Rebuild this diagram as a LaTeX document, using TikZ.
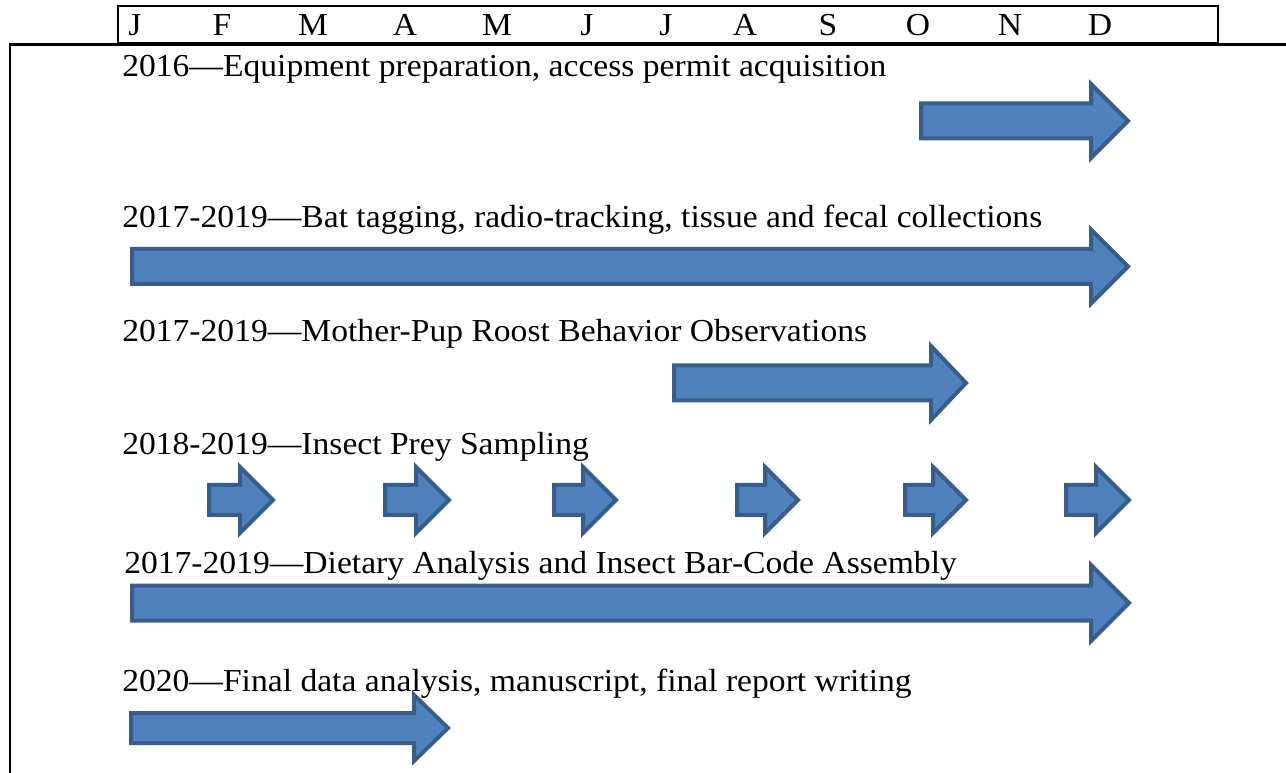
\documentclass[tikz,border=0pt]{standalone}
\usepackage{fontspec}
\setmainfont[FakeStretch=1.05]{Liberation Serif}
\usepackage{xcolor}
\definecolor{barfill}{HTML}{4F81BD}
\definecolor{barline}{HTML}{385D8A}
\usetikzlibrary{positioning}

% block arrow: start x, tip x, centre y, shaft half height, head half height, head length
\newcommand{\blockarrow}[6]{%
  \draw[bar] (#1,#3-#4) -- (#2-#6,#3-#4) -- (#2-#6,#3-#5) -- (#2,#3)
    -- (#2-#6,#3+#5) -- (#2-#6,#3+#4) -- (#1,#3+#4) -- cycle;}

\begin{document}
\begin{tikzpicture}[
  x=0.75pt, y=-0.75pt,
  every node/.style={font=\fontsize{24}{28}\selectfont, inner sep=0pt},
  month/.style={anchor=base},
  task/.style={anchor=base west},
  bar/.style={fill=barfill, draw=barline, line width=3pt, line join=miter},
  frame/.style={line width=2.2pt}
]
  \useasboundingbox (0,0) rectangle (1286,773);
  % month header and frame
  \draw[frame] (118,6) rectangle (1218,43);
  \draw[frame] (1286,44.5) -- (10,44.5) -- (10,773);
  \node[month] (jan) at (135,36) {J};
  \node[month] (feb) at (222,36) {F};
  \node[month] (mar) at (313,36) {M};
  \node[month] (apr) at (405,36) {A};
  \node[month] (may) at (497,36) {M};
  \node[month] (jun) at (587,36) {J};
  \node[month] (jul) at (666,36) {J};
  \node[month] (aug) at (745,36) {A};
  \node[month] (sep) at (828,36) {S};
  \node[month] (oct) at (918,36) {O};
  \node[month] (nov) at (1010,36) {N};
  \node[month] (dec) at (1100,36) {D};
  % tasks
  \node[task] (prep) at (122,77) {2016—Equipment preparation, access permit acquisition};
  \node[task] (tag) at (122,228) {2017-2019—Bat tagging, radio-tracking, tissue and fecal collections};
  \node[task] (roost) at (122,342) {2017-2019—Mother-Pup Roost Behavior Observations};
  \node[task] (prey) at (122,455) {2018-2019—Insect Prey Sampling};
  \node[task] (diet) at (124,573) {2017-2019—Dietary Analysis and Insect Bar-Code Assembly};
  \node[task] (final) at (122,691) {2020—Final data analysis, manuscript, final report writing};
  % bars
  \blockarrow{921}{1128}{121}{17.5}{37}{37}
  \blockarrow{132}{1128}{266.5}{17.5}{37}{37}
  \blockarrow{674}{966}{383}{17.5}{37}{35}
  \blockarrow{209}{273}{500}{15}{33}{33}
  \blockarrow{385}{449}{500}{15}{33}{33}
  \blockarrow{554}{616}{500}{15}{33}{33}
  \blockarrow{737}{798}{500}{15}{33}{33}
  \blockarrow{905}{966}{500}{15}{33}{33}
  \blockarrow{1066}{1129}{500}{15}{33}{33}
  \blockarrow{132}{1129}{603}{17.5}{38}{38}
  \blockarrow{131}{448}{728}{15}{33}{34}
\end{tikzpicture}
\end{document}
